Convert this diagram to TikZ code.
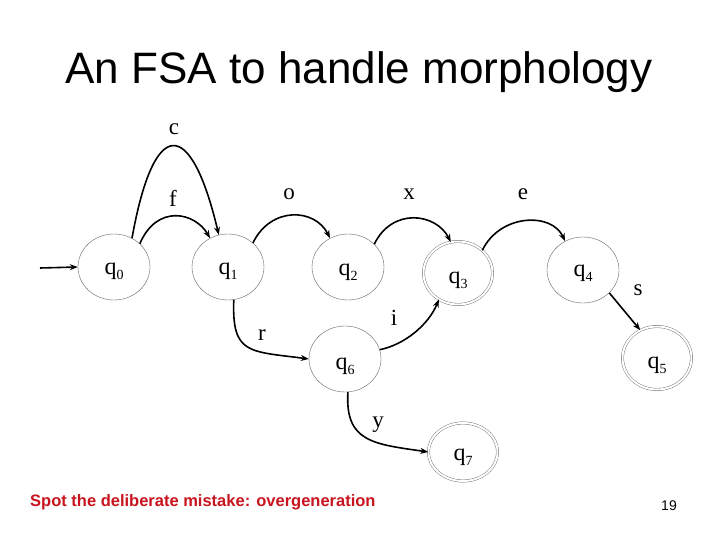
\documentclass[tikz,border=0pt]{standalone}
\usepackage{fontspec}
\setmainfont{Liberation Serif}
\newfontfamily\arialfont{Liberation Sans}
\usetikzlibrary{shapes.geometric,arrows.meta}
\definecolor{footred}{RGB}{200,20,30}
\newcommand{\stlab}[2]{\raisebox{-#2pt}[0pt][0pt]{q{\fontsize{14}{14}\selectfont\raisebox{-5pt}{#1}}}}
\begin{document}
\begin{tikzpicture}[x=1pt,y=-1pt,
  state/.style={ellipse, draw=black!60, line width=0.4pt, minimum width=72pt, minimum height=66pt, inner sep=0pt, font=\fontsize{24}{24}\selectfont},
  accept/.style={state, double, double distance=2pt, minimum width=69pt, minimum height=63pt},
  edge/.style={line width=1.6pt, -{Stealth[length=8pt,width=6pt]}},
  lab/.style={font=\fontsize{23}{23}\selectfont, inner sep=0pt}]
\useasboundingbox[fill=white] (0,0) rectangle (720,540);

\node[anchor=base, font=\arialfont\fontsize{44}{44}\selectfont] (title) at (359,84) {An FSA to handle morphology};

\node[state]  (q0) at (114,267) {\stlab{0}{7}};
\node[state]  (q1) at (228,267) {\stlab{1}{7}};
\node[state]  (q2) at (348,267) {\stlab{2}{8}};
\node[accept] (q3) at (458,273) {\stlab{3}{10}};
\node[state]  (q4) at (583,270) {\stlab{4}{6}};
\node[accept] (q5) at (657,358) {\stlab{5}{10}};
\node[state]  (q6) at (345,359) {\stlab{6}{10}};
\node[accept, minimum height=58pt] (q7) at (463,452) {\stlab{7}{8}};

\coordinate (init) at (40,268);
\draw[edge] (init) -- (q0.180);

\draw[edge] (q0.58) .. controls +(22,-123) and +(-28,-118) .. (q1.106);
\draw[edge] (q0.42) .. controls +(17,-40) and +(-15,-26) .. (q1.122);
\draw[edge] (q1.44) .. controls +(18,-37) and +(-15,-30) .. (q2.122);
\draw[edge] (q2.41) .. controls +(18,-37) and +(-15,-29) .. (q3.103);
\draw[edge] (q3.43) .. controls +(18,-37) and +(-13,-29) .. (q4.122);
\draw[edge] (q4.-41) -- (q5.121);
\draw[edge] (q1.-80) .. controls +(-2,55) and +(-60,-8) .. (q6.180);
\draw[edge] (q6.15) .. controls +(25,-5) and +(-10,25) .. (q3.-126);
\draw[edge] (q6.-85) .. controls +(-3,50) and +(-55,-8) .. (q7.180);

\node[lab] (lc) at (174,129) {c};
\node[lab] (lf) at (173,198) {f};
\node[lab] (lo) at (289,194) {o};
\node[lab] (lx) at (409,194) {x};
\node[lab] (le) at (523,194) {e};
\node[lab] (ls) at (638,290) {s};
\node[lab] (lr) at (262,335) {r};
\node[lab] (li) at (394,318) {i};
\node[lab] (ly) at (378,425) {y};

\node[anchor=base west, inner sep=0pt, text=footred, font=\arialfont\bfseries\fontsize{16.5}{16.5}\selectfont] (foot) at (30,506) {Spot the deliberate mistake: overgeneration};
\node[anchor=base, inner sep=0pt, font=\arialfont\fontsize{14}{14}\selectfont] (pg) at (669,510) {19};
\end{tikzpicture}
\end{document}
